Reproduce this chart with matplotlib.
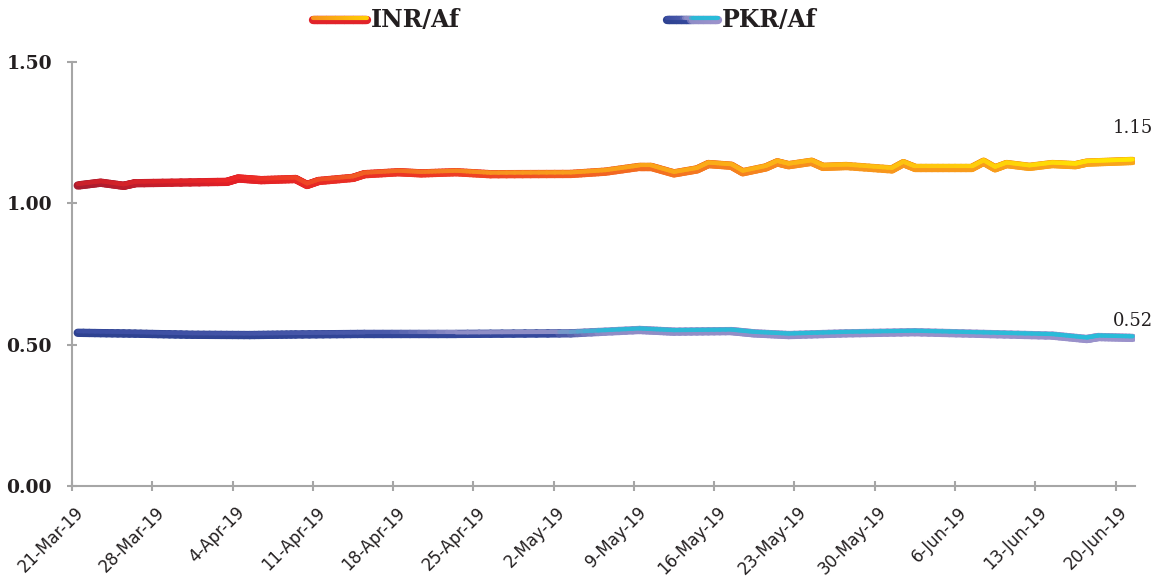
import numpy as np
import matplotlib
matplotlib.use("Agg")
import matplotlib.pyplot as plt
import matplotlib.dates as mdates
from matplotlib.collections import LineCollection
from matplotlib.colors import LinearSegmentedColormap
from matplotlib.transforms import offset_copy, ScaledTranslation
import pandas as pd

# データ
inr_dates = ["2019-03-21", "2019-03-23", "2019-03-25", "2019-03-26", "2019-04-03", "2019-04-04",
             "2019-04-06", "2019-04-09", "2019-04-10", "2019-04-11", "2019-04-14", "2019-04-15",
             "2019-04-18", "2019-04-20", "2019-04-23", "2019-04-26", "2019-05-03", "2019-05-06",
             "2019-05-09", "2019-05-10", "2019-05-12", "2019-05-14", "2019-05-15", "2019-05-17",
             "2019-05-18", "2019-05-20", "2019-05-21", "2019-05-22", "2019-05-24", "2019-05-25",
             "2019-05-27", "2019-05-31", "2019-06-01", "2019-06-02", "2019-06-07", "2019-06-08",
             "2019-06-09", "2019-06-10", "2019-06-12", "2019-06-14", "2019-06-16", "2019-06-17",
             "2019-06-19", "2019-06-21"]
inr_values = [1.063, 1.073, 1.062, 1.071, 1.076, 1.088,
              1.082, 1.086, 1.065, 1.079, 1.090, 1.103,
              1.110, 1.106, 1.110, 1.103, 1.104, 1.112,
              1.129, 1.129, 1.106, 1.120, 1.139, 1.133,
              1.110, 1.127, 1.145, 1.135, 1.147, 1.129,
              1.132, 1.120, 1.142, 1.126, 1.126, 1.147,
              1.124, 1.139, 1.129, 1.139, 1.135, 1.144,
              1.147, 1.150]

pkr_dates = ["2019-03-21", "2019-03-26", "2019-03-31", "2019-04-05", "2019-04-09", "2019-04-15",
             "2019-04-23", "2019-05-03", "2019-05-09", "2019-05-12", "2019-05-17", "2019-05-19",
             "2019-05-22", "2019-05-27", "2019-06-02", "2019-06-08", "2019-06-14", "2019-06-17",
             "2019-06-18", "2019-06-21"]
pkr_values = [0.542, 0.539, 0.535, 0.534, 0.536, 0.538,
              0.538, 0.540, 0.552, 0.546, 0.548, 0.540,
              0.534, 0.540, 0.544, 0.538, 0.532, 0.520,
              0.527, 0.524]

tick_start = "2019-03-21"
tick_labels_fmt = "%-d-%b-%y"
y_ticks = [0.0, 0.5, 1.0, 1.5]

# 色（下側＝濃い色、上側＝明るい色）
inr_bottom = LinearSegmentedColormap.from_list("inr_b", [(0, "#A51C30"), (0.15, "#E21F26"), (0.35, "#EE3A24"),
                                                          (0.5, "#F26522"), (0.72, "#F7941D"), (1, "#F9A51B")])
inr_top = LinearSegmentedColormap.from_list("inr_t", [(0, "#C8202A"), (0.15, "#EC2627"), (0.3, "#F26A22"),
                                                       (0.4, "#F7941D"), (0.72, "#FDB913"), (1, "#FFE600")])
pkr_bottom = LinearSegmentedColormap.from_list("pkr_b", [(0, "#2E4290"), (0.45, "#34489C"), (0.5, "#8F8CC6"),
                                                          (1, "#9B92CB")])
pkr_top = LinearSegmentedColormap.from_list("pkr_t", [(0, "#3B4DA2"), (0.3, "#4A5AAA"), (0.36, "#8E8DC6"),
                                                       (0.45, "#8E8DC6"), (0.5, "#2DB7D6"), (1, "#29BCD9")])

AXIS_GRAY = "#A6A6A6"
TEXT = "#231F20"

fig = plt.figure(figsize=(11.61, 5.80), dpi=100)
ax = fig.add_axes([72 / 1161, 1 - 486 / 580, (1135 - 72) / 1161, (486 - 62) / 580])

x0 = mdates.date2num(pd.Timestamp(tick_start))
x1 = x0 + 92.7


def split_segments(x, y, n=10):
    # 色のグラデーション用に各線分を細かく分割（形は変わらない）
    segs = []
    for i in range(len(x) - 1):
        f = np.linspace(0, 1, n + 1)
        xs = x[i] + (x[i + 1] - x[i]) * f
        ys = y[i] + (y[i + 1] - y[i]) * f
        p = np.column_stack([xs, ys])
        segs.extend(np.stack([p[:-1], p[1:]], axis=1))
    return np.array(segs)


def gradient_line(dates, values, cmap_b, cmap_t):
    # 日付の中央にプロット
    x = mdates.date2num(pd.to_datetime(dates)) + 0.5
    y = np.array(values)
    segs = split_segments(x, y)
    t = (segs[:, :, 0].mean(axis=1) - x0) / (x1 - x0)
    ax.add_collection(LineCollection(segs, colors=cmap_b(t), linewidths=6.0,
                                     capstyle="round", joinstyle="round"))
    ax.add_collection(LineCollection(segs, colors=cmap_t(t), linewidths=3.0, capstyle="round", joinstyle="round",
                                     transform=offset_copy(ax.transData, fig=fig, x=0, y=1.1, units="points")))
    return x, y


xi, yi = gradient_line(inr_dates, inr_values, inr_bottom, inr_top)
xp, yp = gradient_line(pkr_dates, pkr_values, pkr_bottom, pkr_top)

# 最終値ラベル
ax.annotate(f"{inr_values[-1]:.2f}", (xi[-1], yi[-1]), xytext=(0, 17), textcoords="offset points",
            ha="center", va="bottom", fontsize=13, family="DejaVu Serif", color=TEXT)
ax.annotate(f"{pkr_values[-1]:.2f}", (xp[-1], yp[-1]), xytext=(0, 6), textcoords="offset points",
            ha="center", va="bottom", fontsize=13, family="DejaVu Serif", color=TEXT)

ax.set_xlim(x0, x1)
ax.set_ylim(0, 1.5)

ticks = np.arange(x0, x1, 7)
ax.set_xticks(ticks)
ax.set_xticklabels([mdates.num2date(t).strftime(tick_labels_fmt) for t in ticks],
                   rotation=45, ha="right", rotation_mode="anchor",
                   family="DejaVu Sans", fontsize=12, color=TEXT)
ax.set_yticks(y_ticks)
ax.set_yticklabels([f"{v:.2f}" for v in y_ticks], family="DejaVu Serif", fontweight="bold",
                   fontsize=13.5, color=TEXT)

for s in ["top", "right"]:
    ax.spines[s].set_visible(False)
for s in ["left", "bottom"]:
    ax.spines[s].set_color(AXIS_GRAY)
    ax.spines[s].set_linewidth(1.5)
ax.tick_params(axis="both", direction="inout", length=7, width=1.5, color=AXIS_GRAY)
ax.tick_params(axis="y", pad=11)
ax.tick_params(axis="x", pad=9)

# x目盛りラベルを少し右へ
shift = ScaledTranslation(2 / 72, 0, fig.dpi_scale_trans)
for lbl in ax.get_xticklabels():
    lbl.set_transform(lbl.get_transform() + shift)

# 凡例（手描き）
lax = fig.add_axes([0, 0, 1, 1])
lax.set_xlim(0, 1161)
lax.set_ylim(580, 0)
lax.axis("off")
lax.patch.set_alpha(0)


def legend_item(xa, xb, yy, cmap_b, cmap_t, label):
    segs = split_segments(np.array([xa, xb]), np.array([yy, yy]), n=30)
    t = np.linspace(0, 1, len(segs))
    lax.add_collection(LineCollection(segs, colors=cmap_b(t), linewidths=6.0, capstyle="round"))
    lax.add_collection(LineCollection(segs, colors=cmap_t(t), linewidths=3.0, capstyle="round",
                                      transform=offset_copy(lax.transData, fig=fig, x=0, y=1.1, units="points")))
    lax.text(xb + 4, yy, label, ha="left", va="center", fontsize=17, fontweight="bold",
             family="DejaVu Serif", color=TEXT)


legend_item(313, 367, 20, LinearSegmentedColormap.from_list("a", ["#E1232A", "#E1232A"]),
            LinearSegmentedColormap.from_list("b", ["#F7941D", "#FFCB05"]), "INR/Af")
legend_item(667, 718, 20, pkr_bottom, pkr_top, "PKR/Af")

fig.savefig("out.png", dpi=100)
